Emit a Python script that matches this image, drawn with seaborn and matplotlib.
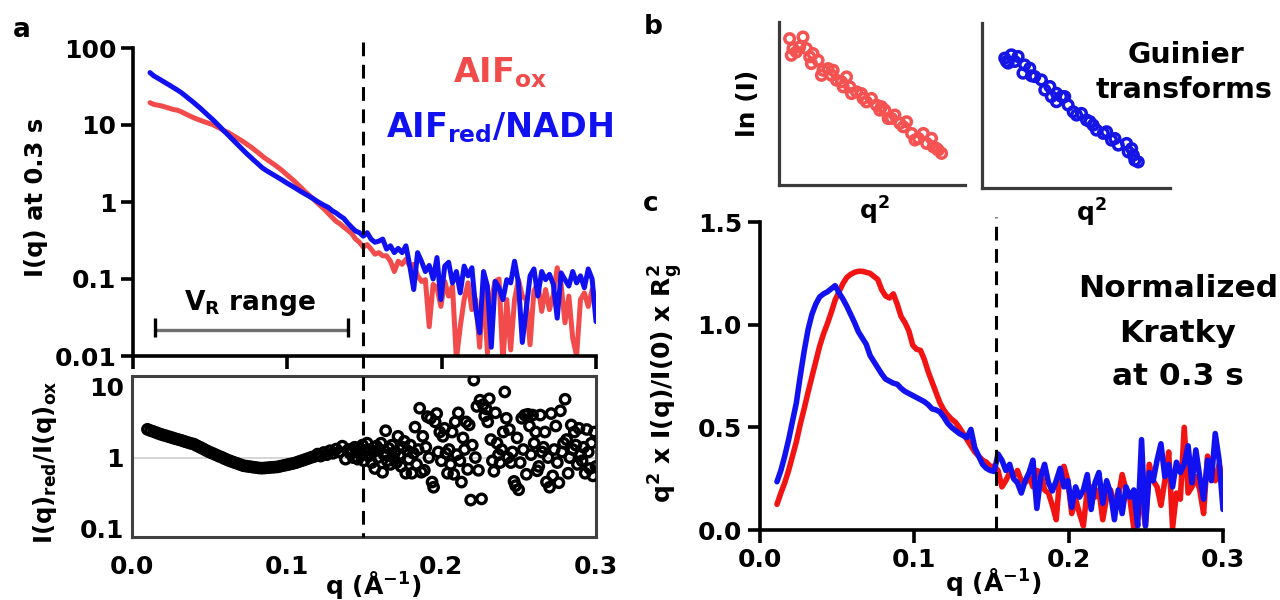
import numpy as np
import pandas as pd
import matplotlib
matplotlib.use("Agg")
import matplotlib.pyplot as plt
import matplotlib.transforms as mtransforms
from matplotlib.lines import Line2D
from matplotlib.ticker import NullLocator
import seaborn as sns

# ---------------- data ----------------
Q_START, Q_STOP, N_Q = 0.011, 0.300, 116

# panel a: I(q) at 0.3 s (oxidised / reduced+NADH)
I_ox = [19.5, 18.5, 18.1, 17.7, 17.1, 16.5, 15.9, 15.6, 14.9, 14.1,
        13.3, 12.6, 12.0, 11.5, 11.0, 10.6, 10.2, 9.64, 9.10, 8.45,
        8.09, 7.53, 7.01, 6.55, 6.10, 5.62, 5.19, 4.74, 4.33, 3.93,
        3.61, 3.33, 3.08, 2.82, 2.58, 2.33, 2.11, 1.91, 1.71, 1.53,
        1.36, 1.23, 1.11, 0.99, 0.89, 0.80, 0.71, 0.63, 0.56, 0.52,
        0.47, 0.43, 0.39, 0.33, 0.30, 0.26, 0.28, 0.245, 0.21, 0.22,
        0.20, 0.20, 0.17, 0.125, 0.17, 0.155, 0.18, 0.147, 0.155, 0.11,
        0.093, 0.098, 0.024, 0.085, 0.077, 0.044, 0.093, 0.060, 0.081, 0.009,
        0.024, 0.054, 0.089, 0.040, 0.054, 0.013, 0.089, 0.011, 0.054, 0.093,
        0.10, 0.008, 0.054, 0.012, 0.054, 0.098, 0.060, 0.054, 0.014, 0.070,
        0.089, 0.038, 0.073, 0.040, 0.063, 0.14, 0.085, 0.027, 0.060, 0.017,
        0.010, 0.054, 0.066, 0.044, 0.073, 0.060]
I_red = [47.9, 43.4, 40.6, 37.9, 35.3, 33.0, 30.7, 28.6, 26.5, 24.2,
         22.0, 20.1, 18.2, 16.5, 14.8, 13.3, 12.0, 10.7, 9.53, 8.45,
         7.55, 6.71, 5.97, 5.32, 4.73, 4.22, 3.80, 3.41, 3.08, 2.77,
         2.56, 2.39, 2.23, 2.08, 1.94, 1.80, 1.68, 1.57, 1.46, 1.36,
         1.27, 1.19, 1.11, 1.03, 0.96, 0.90, 0.85, 0.77, 0.72, 0.66,
         0.61, 0.53, 0.47, 0.42, 0.40, 0.36, 0.40, 0.33, 0.30, 0.31,
         0.33, 0.245, 0.27, 0.22, 0.25, 0.22, 0.27, 0.147, 0.073, 0.22,
         0.17, 0.125, 0.15, 0.10, 0.19, 0.054, 0.147, 0.165, 0.089, 0.125,
         0.066, 0.147, 0.11, 0.14, 0.040, 0.020, 0.125, 0.081, 0.013, 0.093,
         0.077, 0.054, 0.098, 0.089, 0.17, 0.089, 0.015, 0.040, 0.11, 0.135,
         0.060, 0.125, 0.098, 0.115, 0.085, 0.031, 0.12, 0.098, 0.081, 0.125,
         0.089, 0.11, 0.077, 0.135, 0.10, 0.028]

# panel a (lower): I(q)red / I(q)ox, low-q part and noisy high-q part
RATIO_LOW_START, RATIO_LOW_STOP, RATIO_LOW_N = 0.010, 0.140, 66
ratio_low = [2.51, 2.41, 2.33, 2.24, 2.16, 2.09, 2.03, 1.97, 1.91, 1.85,
             1.80, 1.75, 1.69, 1.64, 1.59, 1.55, 1.47, 1.40, 1.33, 1.26,
             1.20, 1.15, 1.10, 1.05, 1.01, 0.962, 0.920, 0.887, 0.855, 0.826,
             0.796, 0.767, 0.755, 0.745, 0.733, 0.723, 0.713, 0.708, 0.713, 0.719,
             0.726, 0.731, 0.738, 0.755, 0.771, 0.789, 0.807, 0.824, 0.847, 0.877,
             0.908, 0.940, 0.973, 1.01, 1.04, 1.12, 1.05, 1.18, 1.10, 1.25,
             1.15, 1.32, 1.20, 1.45, 0.95, 1.30]
RATIO_HIGH_START, RATIO_HIGH_STOP, RATIO_HIGH_N = 0.141, 0.300, 160
ratio_high = [1.15, 1.3, 1.0, 1.4, 1.2, 0.95, 1.35, 1.1, 1.5, 0.9,
              1.25, 1.6, 1.05, 1.3, 0.85, 1.2, 0.7, 1.45, 1.0, 1.3,
              1.6, 0.62, 1.1, 2.4, 0.9, 1.35, 0.8, 1.5, 1.0, 1.2,
              0.85, 2.0, 1.1, 0.75, 1.4, 1.7, 0.6, 1.25, 0.95, 1.5,
              0.6, 1.15, 2.7, 0.8, 1.3, 5.0, 0.62, 2.0, 0.66, 1.4,
              3.8, 1.0, 3.6, 0.45, 0.38, 3.2, 4.2, 1.2, 2.3, 0.9,
              2.0, 2.6, 1.15, 0.6, 1.3, 0.8, 2.3, 0.58, 3.2, 1.1,
              4.3, 0.9, 0.45, 1.9, 1.3, 3.2, 0.68, 2.9, 0.25, 1.5,
              12.5, 1.0, 5.3, 0.66, 6.5, 0.26, 5.6, 3.9, 4.9, 3.2,
              6.8, 1.8, 0.9, 0.64, 4.3, 1.6, 1.1, 0.85, 1.3, 2.3,
              8.5, 3.6, 1.0, 2.5, 0.85, 1.2, 0.46, 0.4, 1.9, 0.35,
              0.85, 3.6, 1.3, 4.0, 0.58, 4.1, 2.8, 1.1, 4.0, 1.6,
              2.3, 0.65, 0.75, 4.0, 1.2, 1.4, 2.3, 0.45, 1.0, 0.38,
              4.2, 0.55, 1.3, 2.8, 0.85, 0.44, 4.6, 1.2, 1.6, 6.7,
              1.8, 0.6, 1.0, 2.9, 1.3, 2.3, 1.5, 0.8, 2.6, 1.1,
              0.9, 1.4, 0.6, 2.5, 1.2, 0.7, 1.6, 0.55, 2.3, 0.75]

# panel c: normalized Kratky
kratky_ox = [0.125, 0.18, 0.23, 0.29, 0.36, 0.43, 0.515, 0.59, 0.67, 0.745,
             0.82, 0.895, 0.955, 1.005, 1.06, 1.12, 1.16, 1.20, 1.23, 1.245,
             1.255, 1.26, 1.26, 1.255, 1.25, 1.235, 1.22, 1.17, 1.14, 1.13,
             1.15, 1.10, 1.04, 1.01, 0.97, 0.90, 0.88, 0.875, 0.83, 0.77,
             0.72, 0.67, 0.62, 0.585, 0.56, 0.54, 0.525, 0.50, 0.47, 0.44,
             0.41, 0.38, 0.36, 0.34, 0.33, 0.31, 0.31, 0.29, 0.21, 0.24,
             0.28, 0.26, 0.29, 0.24, 0.23, 0.26, 0.21, 0.29, 0.28, 0.195,
             0.18, 0.12, 0.05, 0.28, 0.31, 0.24, 0.08, 0.15, 0.08, 0.02,
             0.195, 0.21, 0.16, 0.195, 0.05, 0.16, 0.195, 0.13, 0.16, 0.27,
             0.195, 0.15, 0.01, 0.08, 0.16, 0.02, 0.32, 0.24, 0.21, 0.12,
             0.24, 0.38, 0.01, 0.18, 0.15, 0.50, 0.18, 0.21, 0.26, 0.195,
             0.08, 0.36, 0.31, 0.24, 0.32, 0.24]
kratky_red = [0.235, 0.29, 0.36, 0.44, 0.53, 0.62, 0.75, 0.87, 0.975, 1.05,
              1.10, 1.135, 1.15, 1.16, 1.175, 1.19, 1.155, 1.125, 1.09, 1.05,
              1.01, 0.965, 0.935, 0.905, 0.85, 0.82, 0.79, 0.76, 0.735, 0.725,
              0.715, 0.71, 0.69, 0.675, 0.665, 0.655, 0.645, 0.635, 0.625, 0.61,
              0.59, 0.585, 0.575, 0.55, 0.52, 0.50, 0.485, 0.47, 0.46, 0.45,
              0.49, 0.40, 0.36, 0.32, 0.30, 0.29, 0.285, 0.37, 0.34, 0.29,
              0.32, 0.25, 0.23, 0.18, 0.24, 0.28, 0.34, 0.105, 0.26, 0.32,
              0.23, 0.19, 0.24, 0.30, 0.21, 0.24, 0.11, 0.21, 0.16, 0.195,
              0.27, 0.10, 0.23, 0.28, 0.13, 0.24, 0.18, 0.05, 0.195, 0.08,
              0.21, 0.16, 0.195, 0.02, 0.44, 0.02, 0.28, 0.24, 0.34, 0.42,
              0.26, 0.32, 0.21, 0.33, 0.28, 0.32, 0.41, 0.23, 0.39, 0.26,
              0.15, 0.34, 0.24, 0.47, 0.34, 0.10]

# panel b: Guinier transforms (arbitrary units)
guinier_ox_q2 = [0.57, 1.29, 0.75, 0.66, 1.11, 1.47, 1.83, 1.74, 2.10, 2.37,
                 2.28, 2.64, 2.91, 3.09, 3.36, 3.63, 3.81, 3.90, 4.17, 4.43,
                 4.70, 4.97, 5.24, 5.51, 5.69, 5.87, 6.23, 6.50, 6.86, 7.13,
                 7.31, 7.76, 7.94, 8.20, 8.29, 8.56, 8.74, 0.93, 1.65, 2.82,
                 3.45, 4.52, 5.42, 6.05, 6.68, 7.49, 8.47]
guinier_ox_lnI = [8.98, 9.08, 8.37, 7.96, 8.47, 8.37, 8.06, 7.45, 7.65, 7.04,
                  6.73, 7.14, 7.04, 6.43, 6.33, 6.63, 6.02, 5.61, 5.71, 5.61,
                  5.10, 5.31, 4.90, 4.80, 4.59, 4.08, 4.29, 3.78, 3.88, 3.16,
                  2.76, 3.16, 2.55, 2.86, 2.35, 2.14, 1.94, 8.16, 7.86, 6.73,
                  6.02, 5.31, 4.59, 4.08, 3.57, 2.86, 2.24]
guinier_red_q2 = [1.21, 1.56, 1.92, 1.39, 2.27, 2.18, 2.54, 2.81, 3.16, 3.34,
                  3.61, 3.96, 3.96, 4.40, 4.58, 4.85, 5.29, 5.56, 5.91, 6.09,
                  6.45, 6.63, 6.89, 7.25, 7.69, 7.78, 8.05, 8.13, 8.31, 1.30,
                  1.74, 2.63, 3.69, 4.23, 5.03, 5.74, 7.07, 7.96]
guinier_red_lnI = [7.87, 8.07, 7.97, 7.57, 7.46, 6.96, 7.26, 6.75, 6.55, 5.94,
                   6.15, 5.74, 5.23, 5.54, 5.03, 4.62, 4.52, 4.12, 3.81, 3.51,
                   3.31, 3.41, 2.90, 2.60, 2.70, 2.19, 1.99, 1.68, 1.58, 7.67,
                   7.67, 6.80, 5.54, 5.54, 4.42, 4.02, 3.00, 2.39]

Q_CUT_A = 0.149          # dashed line, panel a
Q_CUT_C = 0.153          # dashed line, panel c
VR_RANGE = (0.0143, 0.139)
VR_LEVEL = 0.022
VR_CAP = (0.0177, 0.0314)

A_YTICKS = [0.01, 0.1, 1, 10, 100]
A_YLABELS = ["0.01", "0.1", "1", "10", "100"]
R_YTICKS = [0.1, 1, 10]
R_YLABELS = ["0.1", "1", "10"]
Q_TICKS = [0.0, 0.1, 0.2, 0.3]
Q_LABELS = ["0.0", "0.1", "0.2", "0.3"]
K_TICKS = [0.0, 0.5, 1.0, 1.5]
K_LABELS = ["0.0", "0.5", "1.0", "1.5"]

RED_A, BLUE_A = "#F24B4B", "#1010F0"
RED_C, BLUE_C = "#F21313", "#1212F0"
RED_B, BLUE_B = "#F55252", "#1515E6"

# ---------------- build tables ----------------
q = np.linspace(Q_START, Q_STOP, N_Q)
df_a = pd.DataFrame({"q": np.concatenate([q, q]),
                     "I": np.array(I_ox + I_red),
                     "sample": ["ox"] * N_Q + ["red"] * N_Q})
q_ratio = np.concatenate([np.linspace(RATIO_LOW_START, RATIO_LOW_STOP, RATIO_LOW_N),
                          np.linspace(RATIO_HIGH_START, RATIO_HIGH_STOP, RATIO_HIGH_N)])
df_r = pd.DataFrame({"q": q_ratio, "ratio": np.array(ratio_low + ratio_high)})
df_c = pd.DataFrame({"q": np.concatenate([q, q]),
                     "K": np.array(kratky_ox + kratky_red),
                     "sample": ["ox"] * N_Q + ["red"] * N_Q})

# ---------------- style ----------------
sns.set_style("ticks")
plt.rcParams["font.family"] = ["DejaVu Sans"]
plt.rcParams["font.weight"] = "bold"
plt.rcParams["mathtext.default"] = "bf"
for k in ["text.color", "axes.labelcolor", "xtick.color", "ytick.color",
          "axes.edgecolor"]:
    plt.rcParams[k] = "black"

W, H = 1280, 600
fig = plt.figure(figsize=(W / 100, H / 100), dpi=100)


def ax_px(l, t, r, b):
    return fig.add_axes([l / W, 1 - b / H, (r - l) / W, (b - t) / H])


def T(x, y, s, **kw):
    kw.setdefault("ha", "center")
    kw.setdefault("va", "center")
    kw.setdefault("fontweight", "bold")
    kw.setdefault("color", "black")
    return fig.text(x / W, 1 - y / H, s, **kw)


DASH = (0, (4.5, 2.8))

# ---------------- panel a (top) ----------------
ax_a = ax_px(133, 48, 596, 356)
sns.lineplot(data=df_a, x="q", y="I", hue="sample", hue_order=["ox", "red"],
             palette={"ox": RED_A, "red": BLUE_A}, estimator=None, sort=False,
             lw=3.6, legend=False, ax=ax_a)
ax_a.set_yscale("log")
ax_a.set_ylim(0.01, 100)
ax_a.set_xlim(0, 0.3)
ax_a.set_yticks(A_YTICKS)
ax_a.set_yticklabels(A_YLABELS)
ax_a.yaxis.set_minor_locator(NullLocator())
ax_a.set_xticks(Q_TICKS)
ax_a.set_xticklabels([])
ax_a.set_xlabel("")
ax_a.set_ylabel("")
for s in ["top", "right"]:
    ax_a.spines[s].set_visible(False)
for s in ["left", "bottom"]:
    ax_a.spines[s].set_linewidth(2.6)
    ax_a.spines[s].set_color("black")
ax_a.tick_params(axis="both", direction="out", length=9, width=2.6,
                 labelsize=18, pad=3, color="black", labelcolor="black")
# V_R range bracket
ax_a.plot(list(VR_RANGE), [VR_LEVEL, VR_LEVEL], color="#6E6E6E", lw=2.4,
          solid_capstyle="butt")
ax_a.vlines(list(VR_RANGE), VR_CAP[0], VR_CAP[1], color="black", lw=2.4)

# ---------------- panel a (ratio) ----------------
ax_r = ax_px(132, 376, 596, 537)
ax_r.axhline(1, color="#D2D2D2", lw=1.3, zorder=0.5)
sns.scatterplot(data=df_r, x="q", y="ratio", marker="o", s=46,
                facecolor="none", edgecolor="black", linewidth=2.4,
                ax=ax_r, zorder=3)
ax_r.collections[-1].set_facecolor("none")
ax_r.set_yscale("log")
ax_r.set_ylim(0.075, 14.3)
ax_r.set_xlim(0, 0.3)
ax_r.set_yticks(R_YTICKS)
ax_r.set_yticklabels(R_YLABELS)
ax_r.yaxis.set_minor_locator(NullLocator())
ax_r.set_xticks(Q_TICKS)
ax_r.set_xticklabels(Q_LABELS)
ax_r.set_xlabel("")
ax_r.set_ylabel("")
for s in ax_r.spines.values():
    s.set_visible(True)
    s.set_linewidth(2.2)
    s.set_color("#404040")
ax_r.tick_params(axis="x", length=0, labelsize=18, pad=13, labelcolor="black")
ax_r.tick_params(axis="y", length=0, labelsize=18, pad=6, labelcolor="black")

# dashed line spanning both panel-a axes
tr = mtransforms.blended_transform_factory(ax_a.transData, fig.transFigure)
fig.add_artist(Line2D([Q_CUT_A, Q_CUT_A], [1 - 42 / H, 1 - 537 / H],
                      transform=tr, color="black", lw=2.2, linestyle=DASH))

# ---------------- panel b ----------------
ax_b1 = ax_px(779, 22, 965, 185)
ax_b2 = ax_px(982, 23, 1170, 188)
sns.scatterplot(x=guinier_ox_q2, y=guinier_ox_lnI, marker="o", s=48,
                facecolor="none", edgecolor=RED_B, linewidth=2.5, ax=ax_b1)
ax_b1.collections[-1].set_facecolor("none")
sns.scatterplot(x=guinier_red_q2, y=guinier_red_lnI, marker="o", s=48,
                facecolor="none", edgecolor=BLUE_B, linewidth=2.5, ax=ax_b2)
ax_b2.collections[-1].set_facecolor("none")
for ax in (ax_b1, ax_b2):
    ax.set_xlim(0, 10)
    ax.set_ylim(0, 10)
    ax.set_xticks([])
    ax.set_yticks([])
    for s in ["top", "right"]:
        ax.spines[s].set_visible(False)
    for s in ["left", "bottom"]:
        ax.spines[s].set_linewidth(2.3)
        ax.spines[s].set_color("#3A3A3A")

# ---------------- panel c ----------------
ax_c = ax_px(760, 222, 1223, 530)
sns.lineplot(data=df_c, x="q", y="K", hue="sample", hue_order=["ox", "red"],
             palette={"ox": RED_C, "red": BLUE_C}, estimator=None, sort=False,
             lw=4.0, legend=False, ax=ax_c)
ax_c.set_xlim(0, 0.3)
ax_c.set_ylim(0, 1.5)
ax_c.set_xticks(Q_TICKS)
ax_c.set_xticklabels(Q_LABELS)
ax_c.set_yticks(K_TICKS)
ax_c.set_yticklabels(K_LABELS)
ax_c.set_xlabel("")
ax_c.set_ylabel("")
for s in ["top", "right"]:
    ax_c.spines[s].set_visible(False)
for s in ["left", "bottom"]:
    ax_c.spines[s].set_linewidth(2.6)
    ax_c.spines[s].set_color("black")
ax_c.tick_params(axis="both", direction="out", length=9, width=2.6,
                 labelsize=18, pad=4, color="black", labelcolor="black")
ax_c.axvline(Q_CUT_C, ymin=0, ymax=1.017, clip_on=False, color="black",
             lw=2.2, linestyle=DASH)

# ---------------- text ----------------
T(22, 30, "a", size=19)
T(653, 27, "b", size=19)
T(651, 204, "c", size=19)

T(500, 82, "AIF$_{ox}$", color=RED_A, size=24, va="baseline")
T(499, 137, "AIF$_{red}$/NADH", color=BLUE_A, size=24, va="baseline")
T(250, 310, "V$_{R}$ range", size=19, va="baseline")

T(36, 197, "I(q) at 0.3 s", size=17.5, rotation=90)
T(45, 462, "I(q)$_{red}$/I(q)$_{ox}$", size=17.5, rotation=90)
T(373, 585, "q (Å$^{-1}$)", size=18)

T(748, 103, "ln (I)", size=18, rotation=90)
T(874, 211, "q$^{2}$", size=18)
T(1091, 213, "q$^{2}$", size=18)
T(1186, 63, "Guinier", size=20.5, va="baseline")
T(1184, 98, "transforms", size=20.5, va="baseline")

T(666, 383, "q$^{2}$ x I(q)/I(0) x R$_{g}^{2}$", size=18, rotation=90)
T(993, 582, "q (Å$^{-1}$)", size=18)
T(1178, 297, "Normalized", size=22.5, va="baseline")
T(1178, 342, "Kratky", size=22.5, va="baseline")
T(1178, 385, "at 0.3 s", size=22.5, va="baseline")

fig.savefig("out.png", dpi=100)
